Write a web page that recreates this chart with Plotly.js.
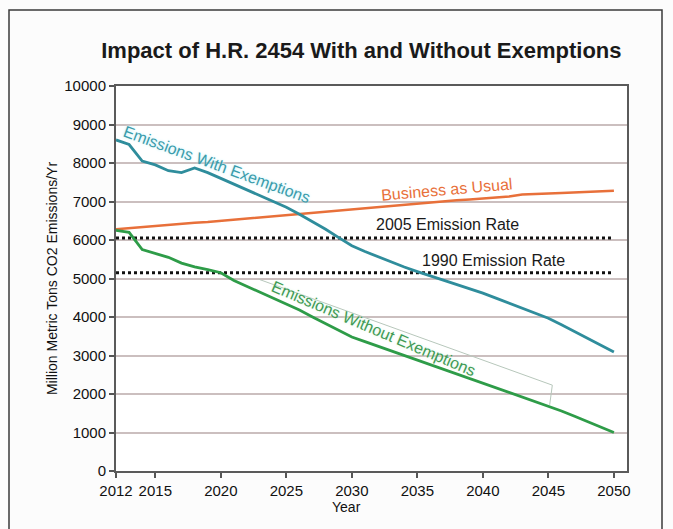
<!DOCTYPE html>
<html>
<head>
<meta charset="utf-8">
<script src="https://cdn.plot.ly/plotly-3.0.1.min.js"></script>
<style>
  html, body { margin: 0; padding: 0; background: #fafafa; }
  #chart { width: 673px; height: 529px; }
</style>
</head>
<body>
<div id="chart"></div>
<script>
// ---- data ----
const years = [2012,2013,2014,2015,2016,2017,2018,2019,2020,2021,2022,2023,2024,2025,2026,2027,2028,2029,2030,
               2031,2032,2033,2034,2035,2036,2037,2038,2039,2040,2041,2042,2043,2044,2045,2046,2047,2048,2049,2050];

const businessAsUsual = [6280,6310,6340,6370,6400,6420,6450,6470,6500,6530,6560,6590,6620,6650,6680,6710,6740,6770,6800,
                         6830,6860,6890,6920,6950,6980,7000,7030,7050,7080,7100,7130,7180,7200,7210,7220,7230,7250,7260,7280];

const withExemptions = [8600,8480,8050,7950,7800,7750,7870,7750,7600,7450,7300,7150,7000,6850,6670,6480,6280,6060,5850,
                        5700,5560,5430,5300,5180,5070,4960,4850,4740,4620,4490,4360,4230,4100,3970,3800,3620,3450,3270,3090];

const withoutExemptions = [6250,6200,5750,5650,5550,5400,5300,5230,5150,4950,4800,4650,4500,4350,4180,4000,3830,3660,3480,
                           3360,3240,3120,3010,2900,2780,2660,2540,2420,2300,2180,2060,1940,1820,1700,1560,1420,1280,1140,1000];

const rateYears = [2012, 2050];
const rate2005 = [6050, 6050];
const rate1990 = [5150, 5150];

const xTickVals = [2012,2015,2020,2025,2030,2035,2040,2045,2050];
const yTickVals = [0,1000,2000,3000,4000,5000,6000,7000,8000,9000,10000];
const yTickText = ['0','1000','2000','3000','4000','5000','6000','7000','8000','9000','10000'];

// ---- styles ----
const FONT = '"Liberation Sans", Arial, Helvetica, sans-serif';
const TEAL = '#2f8d9c';
const ORANGE = '#e8703a';
const GREEN = '#2e9c48';

const traces = [
  { x: rateYears, y: rate2005, mode: 'lines', line: { color: '#111', width: 3, dash: 'dot' }, hoverinfo: 'skip' },
  { x: rateYears, y: rate1990, mode: 'lines', line: { color: '#111', width: 3, dash: 'dot' }, hoverinfo: 'skip' },
  { x: years, y: businessAsUsual, mode: 'lines', name: 'Business as Usual', line: { color: ORANGE, width: 2.5 } },
  { x: years, y: withExemptions, mode: 'lines', name: 'Emissions With Exemptions', line: { color: TEAL, width: 2.8 } },
  { x: years, y: withoutExemptions, mode: 'lines', name: 'Emissions Without Exemptions', line: { color: GREEN, width: 2.8 } }
];

// plot area in pixels: left 116, right 627, top 86, bottom 471
const pxX = px => (px - 116) / 511;
const pxY = py => (471 - py) / 385;

const layout = {
  width: 673, height: 529,
  margin: { l: 116, r: 46, t: 86, b: 58 },
  paper_bgcolor: '#fcfcfc',
  plot_bgcolor: '#ffffff',
  showlegend: false,
  font: { family: FONT, color: '#1a1a1a', size: 15 },
  title: {
    text: '<b>Impact of H.R. 2454 With and Without Exemptions</b>',
    font: { family: FONT, size: 22, color: '#1a1a1a' },
    x: 0.537, xanchor: 'center', y: 0.905, yanchor: 'middle'
  },
  xaxis: {
    range: [2012, 2051],
    tickvals: xTickVals,
    ticktext: xTickVals.map(String),
    ticks: 'outside', ticklen: 5, tickwidth: 2, tickcolor: '#555',
    showgrid: false, zeroline: false,
    showline: true, linecolor: '#5a5a5a', linewidth: 2, mirror: true,
    tickfont: { family: FONT, size: 15, color: '#111' }
  },
  yaxis: {
    range: [0, 10000],
    tickvals: yTickVals,
    ticktext: yTickText,
    ticks: 'outside', ticklen: 5, tickwidth: 2, tickcolor: '#555',
    showgrid: true, gridcolor: '#cbbfbf', gridwidth: 2,
    zeroline: false,
    showline: true, linecolor: '#5a5a5a', linewidth: 2, mirror: true,
    tickfont: { family: FONT, size: 15, color: '#111' },
    title: { text: 'Million Metric Tons CO2 Emissions/Yr', font: { family: FONT, size: 14, color: '#111' }, standoff: 3 }
  },
  annotations: [
    { x: 2019.66, y: 7950, text: 'Emissions With Exemptions', showarrow: false, textangle: 20,
      font: { family: FONT, size: 16, color: '#3a9cab', shadow: '0 0 3px #bfeef5' } },
    { x: 2037.3, y: 7300, text: 'Business as Usual', showarrow: false, textangle: -5,
      font: { family: FONT, size: 16, color: ORANGE } },
    { x: 2037.3, y: 6390, text: '2005 Emission Rate', showarrow: false,
      font: { family: FONT, size: 16, color: '#1a1a1a' } },
    { x: 2040.8, y: 5480, text: '1990 Emission Rate', showarrow: false,
      font: { family: FONT, size: 16, color: '#1a1a1a' } },
    { x: 2031.66, y: 3714, text: 'Emissions Without Exemptions', showarrow: false, textangle: 23,
      font: { family: FONT, size: 16, color: '#3f9a55', shadow: '0 0 3px #d8f3dc' } },
    { xref: 'paper', yref: 'paper', x: pxX(346), y: pxY(517), text: 'Year', showarrow: false,
      font: { family: FONT, size: 14, color: '#111' } }
  ],
  shapes: [
    // callout outline around "Emissions Without Exemptions"
    { type: 'path', xref: 'x', yref: 'y',
      path: 'M 2022.9,4980 L 2045.3,2230 L 2045.1,1720',
      line: { color: '#b7c7bb', width: 1 } },
    // outer frame
    { type: 'path', xref: 'paper', yref: 'paper',
      path: `M ${pxX(9)},${pxY(560)} L ${pxX(9)},${pxY(10)} L ${pxX(662)},${pxY(10)} L ${pxX(662)},${pxY(560)}`,
      line: { color: '#3a3a3a', width: 1.5 } }
  ]
};

Plotly.newPlot('chart', traces, layout, { displayModeBar: false, staticPlot: true });
</script>
</body>
</html>
